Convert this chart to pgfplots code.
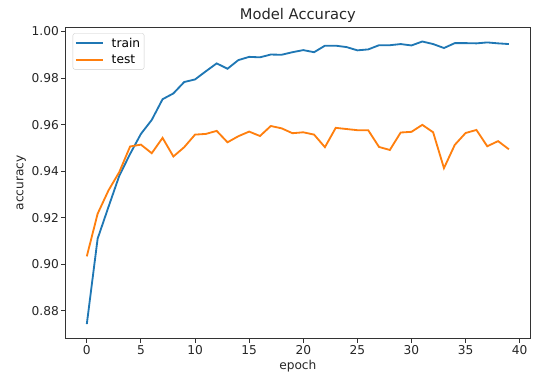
\documentclass[border=0pt]{standalone}
\usepackage{fontspec}
\setmainfont{DejaVu Sans}
\usepackage{pgfplots}
\pgfplotsset{compat=1.18}
\definecolor{cA}{HTML}{1F77B4}
\definecolor{cB}{HTML}{FF7F0E}
\definecolor{tk}{HTML}{262626}
\begin{document}
\begin{tikzpicture}
\begin{axis}[
  scale only axis,
  width=464.3pt, height=311pt,
  xmin=-1.95, xmax=40.95,
  ymin=0.8682, ymax=1.0018,
  xtick={0,5,...,40},
  ytick={0.88,0.90,...,1.001},
  /pgf/number format/assume math mode=true,
  yticklabel style={xshift=1pt, /pgf/number format/.cd,fixed,fixed zerofill,precision=2},
  scaled y ticks=false,
  tick align=outside,
  tick pos=left,
  major tick length=4.3pt,
  every tick/.style={black!80, line width=1pt},
  axis line style={black!80, line width=1pt},
  ticklabel style={font=\fontsize{12.2}{14}\selectfont, text=tk},
  xticklabel style={yshift=1pt},
  xlabel={epoch}, ylabel={accuracy},
  label style={font=\fontsize{12.2}{14}\selectfont, text=tk},
  xlabel style={yshift=1pt},
  ylabel style={yshift=-1pt},
  title={Model Accuracy},
  title style={font=\fontsize{14.7}{17}\selectfont, text=tk, yshift=-5pt},
  legend cell align=left,
  legend style={font=\fontsize{12.2}{14}\selectfont, draw=black!20, rounded corners=2pt,
     inner xsep=2pt, inner ysep=1.5pt, row sep=0pt,
     nodes={inner xsep=2pt, inner ysep=3pt},
     /tikz/every odd column/.style={column sep=6pt},
     /tikz/every even column/.style={column sep=3pt},
     at={(axis description cs:0.0151,0.9807)}, anchor=north west},
  legend image code/.code={\draw[#1, line width=1.83pt] (0pt,0pt) -- (27pt,0pt);},
]
\addplot[cA, line width=1.83pt] coordinates {
(0,0.8743) (1,0.9110) (2,0.9246) (3,0.9380) (4,0.9474) (5,0.9560) (6,0.9620) (7,0.9709) (8,0.9734) (9,0.9783)
(10,0.9794) (11,0.9829) (12,0.9863) (13,0.9840) (14,0.9877) (15,0.9891) (16,0.9889) (17,0.9901) (18,0.9900) (19,0.9911)
(20,0.9920) (21,0.9911) (22,0.9939) (23,0.9939) (24,0.9933) (25,0.9919) (26,0.9923) (27,0.9941) (28,0.9941) (29,0.9946)
(30,0.9940) (31,0.9957) (32,0.9946) (33,0.9929) (34,0.9950) (35,0.9950) (36,0.9949) (37,0.9953) (38,0.9949) (39,0.9946)
};
\addlegendentry{train}
\addplot[cB, line width=1.83pt] coordinates {
(0,0.9034) (1,0.9217) (2,0.9317) (3,0.9396) (4,0.9506) (5,0.9514) (6,0.9477) (7,0.9543) (8,0.9463) (9,0.9503)
(10,0.9557) (11,0.9560) (12,0.9573) (13,0.9524) (14,0.9550) (15,0.9570) (16,0.9551) (17,0.9594) (18,0.9584) (19,0.9563)
(20,0.9567) (21,0.9557) (22,0.9503) (23,0.9586) (24,0.9581) (25,0.9576) (26,0.9576) (27,0.9504) (28,0.9491) (29,0.9566)
(30,0.9569) (31,0.9599) (32,0.9567) (33,0.9413) (34,0.9513) (35,0.9564) (36,0.9577) (37,0.9507) (38,0.9529) (39,0.9494)
};
\addlegendentry{test}
\end{axis}
\pgfresetboundingbox
\useasboundingbox ([shift={(-65.7pt,-44.7pt)}]current axis.south west) rectangle ([shift={(9pt,27.3pt)}]current axis.north east);
\end{tikzpicture}
\end{document}
